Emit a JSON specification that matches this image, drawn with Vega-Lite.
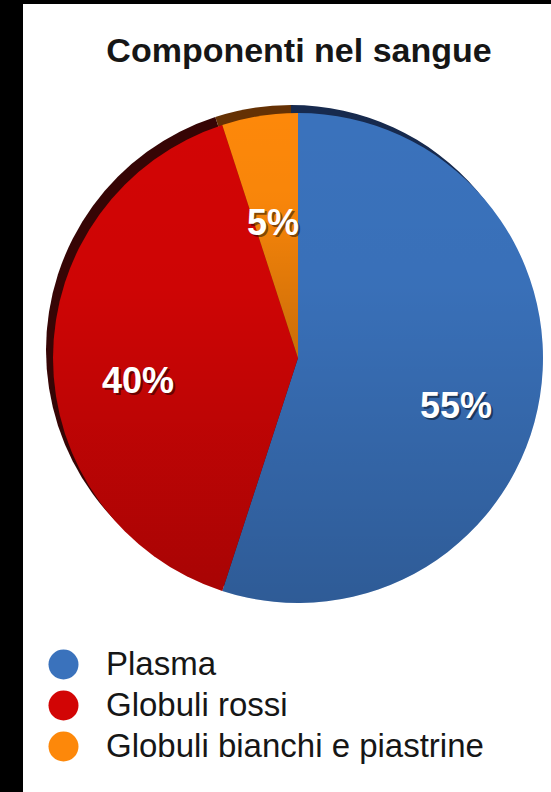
{
  "$schema": "https://vega.github.io/schema/vega-lite/v6.json",
  "width": 528,
  "height": 788,
  "autosize": {"type": "none"},
  "padding": {"left": 23, "top": 4, "right": 0, "bottom": 0},
  "background": "#000000",
  "view": {"fill": "#ffffff", "stroke": null},
  "title": {
    "text": "Componenti nel sangue",
    "font": "Liberation Sans",
    "fontSize": 34,
    "fontWeight": "bold",
    "color": "#161616",
    "anchor": "middle",
    "frame": "group",
    "orient": "top",
    "baseline": "alphabetic",
    "offset": -92,
    "dx": 12
  },
  "data": {
    "values": [
      {"componente": "Plasma", "percentuale": 55, "ordine": 1, "etichetta": "55%"},
      {"componente": "Globuli rossi", "percentuale": 40, "ordine": 2, "etichetta": "40%"},
      {"componente": "Globuli bianchi e piastrine", "percentuale": 5, "ordine": 3, "etichetta": "5%"}
    ]
  },
  "encoding": {
    "theta": {"field": "percentuale", "type": "quantitative", "stack": true},
    "order": {"field": "ordine", "type": "quantitative"}
  },
  "resolve": {"scale": {"color": "independent"}, "legend": {"color": "independent"}},
  "layer": [
    {
      "mark": {"type": "arc", "radius": 245, "xOffset": 4, "yOffset": -48},
      "encoding": {
        "color": {
          "field": "componente",
          "type": "nominal",
          "scale": {
            "domain": ["Plasma", "Globuli rossi", "Globuli bianchi e piastrine"],
            "range": ["#172a4e", "#360505", "#653104"]
          },
          "legend": null
        }
      }
    },
    {
      "mark": {"type": "arc", "radius": 245, "xOffset": 11, "yOffset": -40},
      "encoding": {
        "color": {
          "field": "componente",
          "type": "nominal",
          "sort": null,
          "scale": {
            "domain": ["Plasma", "Globuli rossi", "Globuli bianchi e piastrine"],
            "range": ["#3a72bc", "#d20505", "#fd880a"]
          },
          "legend": {
            "orient": "none",
            "legendX": 24,
            "legendY": 644,
            "title": null,
            "padding": 0,
            "symbolType": "circle",
            "symbolSize": 900,
            "symbolStrokeWidth": 0,
            "symbolOpacity": 1,
            "labelFont": "Liberation Sans",
            "labelFontSize": 33,
            "labelColor": "#161616",
            "labelOffset": 26,
            "labelLimit": 600,
            "rowPadding": 7
          }
        }
      }
    },
    {
      "mark": {
        "type": "arc",
        "radius": 245,
        "xOffset": 11,
        "yOffset": -40,
        "color": {
          "gradient": "linear",
          "x1": 0, "y1": 0, "x2": 0, "y2": 1,
          "stops": [
            {"offset": 0, "color": "rgba(0,0,0,0)"},
            {"offset": 0.35, "color": "rgba(0,0,0,0.02)"},
            {"offset": 1, "color": "rgba(0,0,0,0.2)"}
          ]
        }
      }
    },
    {
      "mark": {
        "type": "text",
        "radius": 160,
        "xOffset": 13,
        "yOffset": -14,
        "font": "Liberation Sans",
        "fontSize": 36,
        "fontWeight": "bold",
        "color": "#000000",
        "opacity": 0.45,
        "baseline": "middle",
        "align": "center"
      },
      "encoding": {"text": {"field": "etichetta", "type": "nominal"}}
    },
    {
      "mark": {
        "type": "text",
        "radius": 160,
        "xOffset": 11,
        "yOffset": -16,
        "font": "Liberation Sans",
        "fontSize": 36,
        "fontWeight": "bold",
        "color": "#ffffff",
        "baseline": "middle",
        "align": "center"
      },
      "encoding": {"text": {"field": "etichetta", "type": "nominal"}}
    }
  ]
}
